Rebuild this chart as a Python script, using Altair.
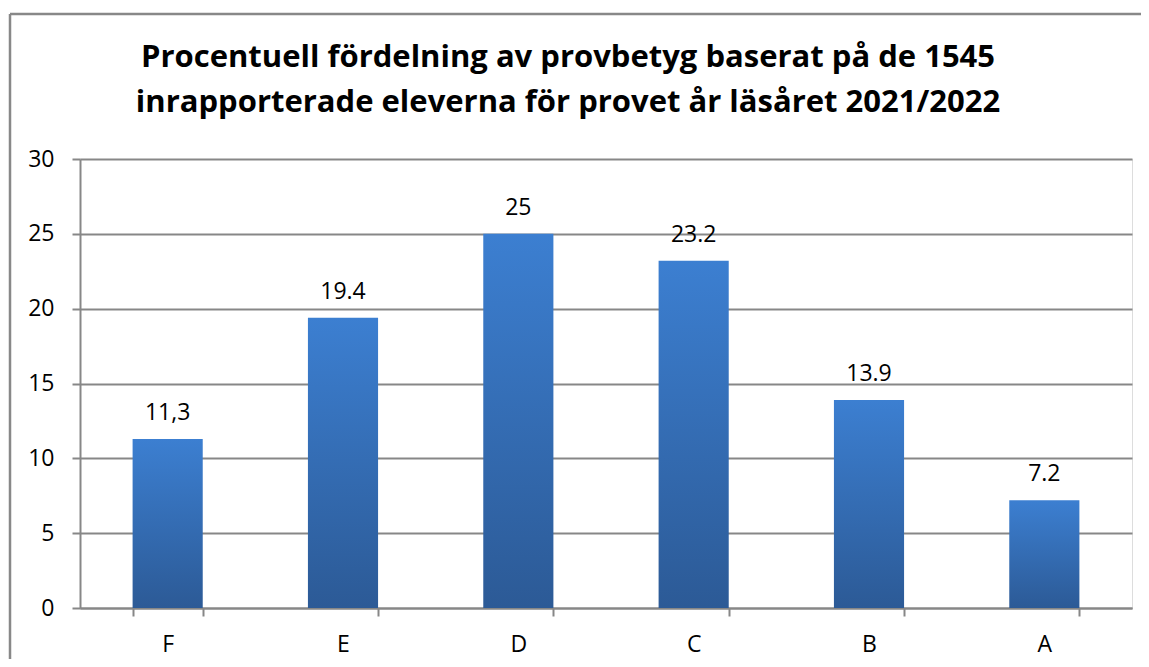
import altair as alt
import pandas as pd

grades = ["F", "E", "D", "C", "B", "A"]
values = [11.3, 19.4, 25.0, 23.2, 13.9, 7.2]
value_labels = ["11,3", "19.4", "25", "23.2", "13.9", "7.2"]
title_lines = [
    "Procentuell fördelning av provbetyg baserat på de 1545",
    "inrapporterade eleverna för provet år läsåret 2021/2022",
]
y_ticks = [0, 5, 10, 15, 20, 25, 30]

FONT = "Open Sans"
GRID = "#878787"
FS = 23

df = pd.DataFrame({"grade": grades, "value": values, "label": value_labels})

x_enc = alt.X(
    "grade:N",
    sort=grades,
    title=None,
    scale=alt.Scale(paddingInner=0.6, paddingOuter=0.3),
    axis=alt.Axis(
        labelAngle=0,
        labelFont=FONT,
        labelFontSize=FS,
        labelColor="black",
        labelBaseline="alphabetic",
        labelPadding=35,
        tickBand="extent",
        tickSize=8,
        tickColor=GRID,
        tickWidth=2,
        domainColor=GRID,
        domainWidth=2,
        grid=False,
    ),
)
y_enc = alt.Y(
    "value:Q",
    title=None,
    scale=alt.Scale(domain=[0, 30], nice=False),
    axis=alt.Axis(
        values=y_ticks,
        labelFont=FONT,
        labelFontSize=FS,
        labelColor="black",
        labelPadding=18,
        tickSize=8,
        tickColor=GRID,
        tickWidth=2,
        domainColor=GRID,
        domainWidth=2,
        gridColor=GRID,
        gridWidth=2,
        gridOpacity=1,
    ),
)

bars = alt.Chart(df).mark_bar(
    color=alt.Gradient(
        gradient="linear",
        x1=0, x2=0, y1=0, y2=1,
        stops=[
            alt.GradientStop(color="#3c7fd1", offset=0),
            alt.GradientStop(color="#2c5a96", offset=1),
        ],
    )
).encode(x=x_enc, y=y_enc)

labels = alt.Chart(df).mark_text(
    font=FONT, fontSize=FS, color="black", baseline="alphabetic", dy=-19
).encode(x=alt.X("grade:N", sort=grades), y="value:Q", text="label:N")

one = pd.DataFrame({"a": [0]})
frame_left = alt.Chart(one).mark_rule(color="#888888", strokeWidth=2.5).encode(
    x=alt.value(-70), y=alt.value(-145), y2=alt.value(520)
)
frame_top = alt.Chart(one).mark_rule(color="#888888", strokeWidth=2.5).encode(
    x=alt.value(-70), x2=alt.value(1080), y=alt.value(-145)
)

tdf = pd.DataFrame({"t": title_lines, "i": [0, 1]})
title1 = alt.Chart(tdf.iloc[[0]]).mark_text(
    font=FONT, fontSize=31, fontWeight="bold", color="black", baseline="alphabetic", align="center"
).encode(x=alt.value(488), y=alt.value(-92), text="t:N")
title2 = alt.Chart(tdf.iloc[[1]]).mark_text(
    font=FONT, fontSize=31, fontWeight="bold", color="black", baseline="alphabetic", align="center"
).encode(x=alt.value(488), y=alt.value(-47), text="t:N")

chart = (
    alt.layer(bars, labels, frame_left, frame_top, title1, title2)
    .properties(
        width=1052,
        height=449,
        autosize=alt.AutoSizeParams(type="none"),
        padding={"left": 72, "top": 151, "right": 9, "bottom": 51},
    )
    .configure_view(stroke=None)
    .configure(background="white")
)

chart.save("out.html", embed_options={"renderer": "svg", "actions": False})
